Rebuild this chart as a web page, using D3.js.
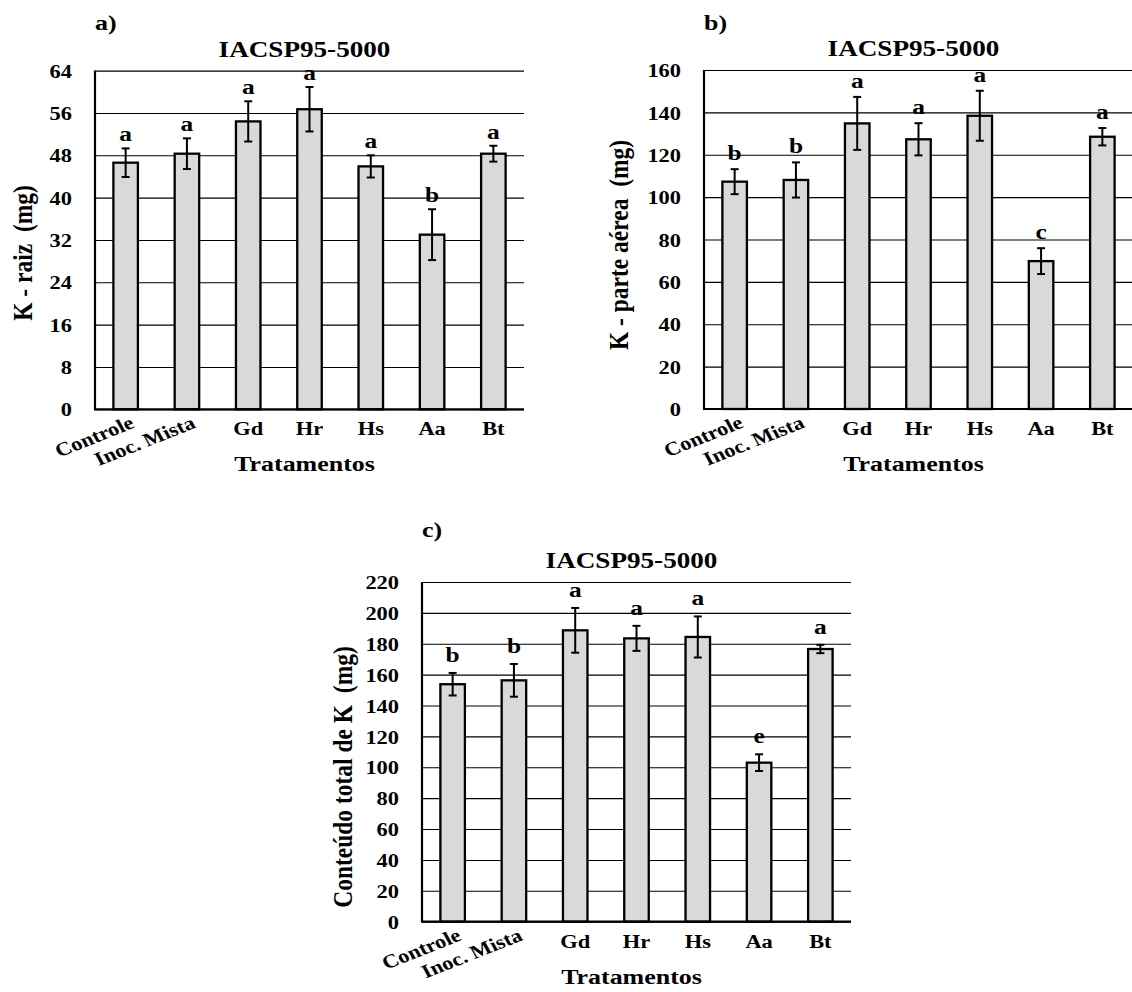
<!DOCTYPE html>
<html>
<head>
<meta charset="utf-8">
<script src="https://cdn.jsdelivr.net/npm/d3@7"></script>
<style>
  body { margin: 0; background: #fff; }
</style>
</head>
<body>
<svg id="chart"></svg>
<script>
const categories = ["Controle", "Inoc. Mista", "Gd", "Hr", "Hs", "Aa", "Bt"];

const rootK = [46.6, 48.3, 54.4, 56.7, 45.9, 33.0, 48.3];
const rootErr = [2.7, 2.9, 3.8, 4.2, 2.1, 4.8, 1.5];
const rootLetters = ["a", "a", "a", "a", "a", "b", "a"];

const shootK = [107.3, 108.1, 134.8, 127.3, 138.4, 69.8, 128.5];
const shootErr = [5.9, 8.3, 12.5, 7.6, 11.8, 6.1, 4.1];
const shootLetters = ["b", "b", "a", "a", "a", "c", "a"];

const totalK = [153.8, 156.3, 188.7, 183.5, 184.4, 103.0, 176.6];
const totalErr = [7.3, 10.6, 14.5, 8.1, 13.3, 5.4, 2.7];
const totalLetters = ["b", "b", "a", "a", "a", "e", "a"];

const rootTicks = [0, 8, 16, 24, 32, 40, 48, 56, 64];
const shootTicks = [0, 20, 40, 60, 80, 100, 120, 140, 160];
const totalTicks = [0, 20, 40, 60, 80, 100, 120, 140, 160, 180, 200, 220];

const cultivar = "IACSP95-5000";
const xTitle = "Tratamentos";

const width = 1132;
const height = 992;
const SX = 1.18; // the reference text is stretched sideways
const font = "'Liberation Serif', 'Times New Roman', serif";

const svg = d3.select("#chart").attr("width", width).attr("height", height);

const panels = [
  { tag: "a)", tagY: 30, yTitle: "K - raiz  (mg)", yTitleX: 23, yTitleY: 253,
    left: 95, right: 524, top: 70.6, bottom: 409.3, gap: 7,
    values: rootK, errs: rootErr, letters: rootLetters, ticks: rootTicks },
  { tag: "b)", tagY: 30, yTitle: "K - parte aérea  (mg)", yTitleX: 619, yTitleY: 245,
    left: 704, right: 1133, top: 70, bottom: 409, gap: 9,
    values: shootK, errs: shootErr, letters: shootLetters, ticks: shootTicks },
  { tag: "c)", tagY: 537, yTitle: "Conteúdo total de K  (mg)", yTitleX: 343, yTitleY: 777,
    left: 422, right: 851, top: 582, bottom: 921.7, gap: 11,
    values: totalK, errs: totalErr, letters: totalLetters, ticks: totalTicks },
];

const boldText = (sel, size) =>
  sel.attr("font-family", font).attr("font-weight", "bold")
     .attr("font-size", size).attr("fill", "#000");

const drawPanel = (p) => {
  const g = svg.append("g");

  const x = d3.scaleBand().domain(categories)
    .range([p.left, p.right]).paddingInner(0.6).paddingOuter(0.3);
  const y = d3.scaleLinear().domain([0, d3.max(p.ticks)])
    .range([p.bottom, p.top]);
  const cx = (d) => x(d) + x.bandwidth() / 2;

  // gridlines + tick labels
  g.append("g")
    .attr("transform", `translate(${p.left},0)`)
    .call(d3.axisLeft(y).tickValues(p.ticks).tickSize(-(p.right - p.left)).tickPadding(0))
    .call((a) => a.select(".domain").remove())
    .call((a) => a.selectAll("line").attr("stroke", "#000").attr("stroke-width", 1.1))
    .call((a) => a.selectAll("text")
      .attr("x", null)
      .attr("dy", "0.35em")
      .attr("transform", `translate(-23,0) scale(${SX},1)`)
      .call(boldText, 19));

  // bars
  g.selectAll(".bar")
    .data(categories)
    .join("rect")
    .attr("class", "bar")
    .attr("x", (d) => x(d))
    .attr("y", (d, i) => y(p.values[i]))
    .attr("width", x.bandwidth())
    .attr("height", (d, i) => y(0) - y(p.values[i]))
    .attr("fill", "#d9d9d9")
    .attr("stroke", "#000")
    .attr("stroke-width", 2.3);

  // error bars
  const err = g.selectAll(".err").data(categories).join("g").attr("class", "err")
    .attr("stroke", "#000").attr("stroke-width", 2);
  err.append("line")
    .attr("x1", cx).attr("x2", cx)
    .attr("y1", (d, i) => y(p.values[i] + p.errs[i]))
    .attr("y2", (d, i) => y(p.values[i] - p.errs[i]));
  [1, -1].forEach((s) => {
    err.append("line")
      .attr("x1", (d) => cx(d) - 4).attr("x2", (d) => cx(d) + 4)
      .attr("y1", (d, i) => y(p.values[i] + s * p.errs[i]))
      .attr("y2", (d, i) => y(p.values[i] + s * p.errs[i]));
  });

  // significance letters
  g.selectAll(".letter").data(categories).join("text")
    .attr("class", "letter")
    .attr("text-anchor", "middle")
    .attr("transform", (d, i) =>
      `translate(${cx(d)},${y(p.values[i] + p.errs[i]) - p.gap}) scale(${SX},1)`)
    .text((d, i) => p.letters[i])
    .call(boldText, 21.5);

  // axis lines
  g.append("line").attr("x1", p.left).attr("x2", p.left)
    .attr("y1", p.top).attr("y2", p.bottom)
    .attr("stroke", "#000").attr("stroke-width", 2.2);
  g.append("line").attr("x1", p.left - 1).attr("x2", p.right)
    .attr("y1", p.bottom).attr("y2", p.bottom)
    .attr("stroke", "#000").attr("stroke-width", 2.2);

  // category labels, first two tilted
  g.selectAll(".cat").data(categories).join("text")
    .attr("class", "cat")
    .attr("text-anchor", (d, i) => (i < 2 ? "end" : "middle"))
    .attr("transform", (d, i) => i < 2
      ? `translate(${cx(d) + 10},${p.bottom + 18}) scale(${SX},1) rotate(-25)`
      : `translate(${cx(d)},${p.bottom + 26}) scale(${SX},1)`)
    .text((d) => d)
    .call(boldText, 19);

  const mid = (p.left + p.right) / 2 - 5;

  g.append("text")
    .attr("text-anchor", "middle")
    .attr("transform", `translate(${mid},${p.bottom + 62}) scale(${SX},1)`)
    .text(xTitle)
    .call(boldText, 22);

  g.append("text")
    .attr("text-anchor", "middle")
    .attr("transform", `translate(${mid},${p.top - 14}) scale(${SX},1)`)
    .text(cultivar)
    .call(boldText, 23);

  g.append("text")
    .attr("transform", `translate(${p.left},${p.tagY}) scale(${SX},1)`)
    .text(p.tag)
    .call(boldText, 22);

  g.append("text")
    .attr("text-anchor", "middle")
    .attr("dominant-baseline", "central")
    .style("white-space", "pre")
    .attr("transform", `translate(${p.yTitleX},${p.yTitleY}) scale(${SX},1) rotate(-90)`)
    .text(p.yTitle)
    .call(boldText, 23.5);
};

panels.forEach(drawPanel);
</script>
</body>
</html>
